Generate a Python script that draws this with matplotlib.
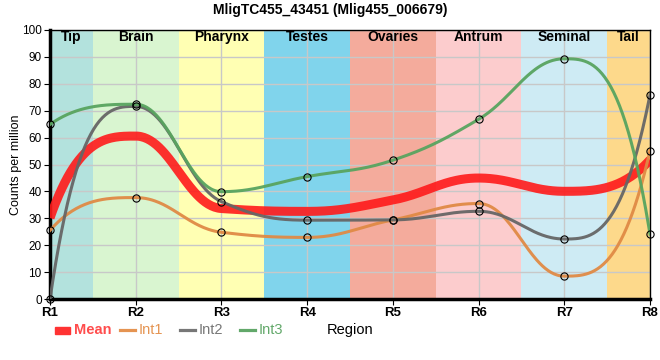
import numpy as np
import matplotlib
matplotlib.use("Agg")
import matplotlib.pyplot as plt
from matplotlib.lines import Line2D
from matplotlib.patches import Rectangle

plt.rcParams['font.family'] = ['Liberation Sans', 'DejaVu Sans']

regions = ["R1", "R2", "R3", "R4", "R5", "R6", "R7", "R8"]
int1 = [25.5, 37.7, 24.8, 22.9, 29.4, 35.5, 8.5, 55.2]
int2 = [0.0, 71.6, 36.2, 29.3, 29.4, 32.6, 22.3, 75.9]
int3 = [64.9, 72.4, 39.9, 45.5, 51.6, 66.8, 89.3, 24.1]
mean = list(np.mean([int1, int2, int3], axis=0))

band_names = ["Tip", "Brain", "Pharynx", "Testes", "Ovaries", "Antrum", "Seminal", "Tail"]
band_colors = ["#b3e2dd", "#d9f5d0", "#ffffb3", "#80d4ec", "#f4ab9c", "#fccccd", "#ceebf4", "#fdd98b"]


def smooth(x, y, k=0.4, n=60):
    # monotone tangents, bezier handles k*h long
    x = np.asarray(x, float)
    y = np.asarray(y, float)
    h = np.diff(x)
    s = np.diff(y) / h
    t = np.zeros(len(x))
    for i in range(1, len(x) - 1):
        p = (s[i - 1] * h[i] + s[i] * h[i - 1]) / (h[i - 1] + h[i])
        t[i] = (np.sign(s[i - 1]) + np.sign(s[i])) * min(abs(s[i - 1]), abs(s[i]), 0.5 * abs(p))
    t[0] = 3 * s[0] - 2 * t[1]
    t[-1] = 3 * s[-1] - 2 * t[-2]
    xs, ys = [], []
    for i in range(len(x) - 1):
        kk = 1 / 3 if i in (0, len(x) - 2) else k
        u = np.linspace(0, 1, n)
        px = [x[i], x[i] + kk * h[i], x[i + 1] - kk * h[i], x[i + 1]]
        py = [y[i], y[i] + kk * h[i] * t[i], y[i + 1] - kk * h[i] * t[i + 1], y[i + 1]]
        b = [(1 - u) ** 3, 3 * (1 - u) ** 2 * u, 3 * (1 - u) * u ** 2, u ** 3]
        xs.append(sum(bi * pi for bi, pi in zip(b, px)))
        ys.append(sum(bi * pi for bi, pi in zip(b, py)))
    return np.concatenate(xs), np.concatenate(ys)


fig = plt.figure(figsize=(6.6, 3.6), dpi=100)
ax = fig.add_axes([50 / 660, 1 - 299 / 360, 600 / 660, 269 / 360])

xpos = np.arange(len(regions))
for i, (name, col) in enumerate(zip(band_names, band_colors)):
    lo = max(i - 0.5, 0)
    hi = min(i + 0.5, len(regions) - 1)
    ax.axvspan(lo, hi, color=col, zorder=0, lw=0)
    ax.text((lo + hi) / 2, 97.3, name, ha='center', va='center', fontsize=10,
            fontweight='bold', zorder=5)

ax.set_xlim(0, len(regions) - 1)
ax.set_ylim(0, 100)
ax.set_yticks(np.arange(0, 101, 10))
ax.set_xticks(xpos)
ax.set_xticklabels(regions, fontweight='bold', fontsize=9.5)
ax.tick_params(axis='y', labelsize=8.5, length=4, pad=2)
ax.tick_params(axis='x', length=4, pad=2)
ax.grid(True, color='#c8c8c8', lw=1, zorder=1)
ax.set_axisbelow(True)
for sp in ax.spines.values():
    sp.set_linewidth(1)
ax.spines['left'].set_linewidth(2.5)
ax.spines['bottom'].set_linewidth(2.5)
ax.set_ylabel("Counts per million", fontsize=9, labelpad=0)

mx, my = smooth(xpos, mean)
ax.plot(mx, my, color='#ff1a1a', lw=6.5, alpha=0.9, zorder=3, solid_capstyle='butt')

series = [(int1, '#e08a45'), (int2, '#666666'), (int3, '#58a45f')]
for vals, col in series:
    sx, sy = smooth(xpos, vals)
    ax.plot(sx, sy, color=col, lw=2.2, alpha=0.95, zorder=4)
for vals, col in series:
    ax.plot(xpos, vals, 'o', ms=5.2, mfc='none', mec='black', mew=0.8, zorder=6, clip_on=False)

fig.text(0.5, 0.972, "MligTC455_43451 (Mlig455_006679)", ha='center', va='center',
         fontsize=10, fontweight='bold')

# legend row
ly = 1 - 330 / 360
fig.patches.append(Rectangle((55 / 660, ly - 3.5 / 360), 15 / 660, 7 / 360,
                             transform=fig.transFigure, color='#ff3333', figure=fig))
fig.text(74 / 660, ly, "Mean", color='#ff4d4d', fontsize=10.5, fontweight='bold', va='center')
leg = [("Int1", '#e59452', 120), ("Int2", '#777777', 180), ("Int3", '#62a86a', 240)]
for lab, col, x0 in leg:
    fig.lines.append(Line2D([x0 / 660, (x0 + 15) / 660], [ly, ly], color=col, lw=2.3,
                            transform=fig.transFigure))
    fig.text((x0 + 19) / 660, ly, lab, color=col, fontsize=10.5, va='center')
fig.text(350 / 660, ly, "Region", fontsize=10.5, ha='center', va='center')

fig.savefig("out.png", dpi=100)
